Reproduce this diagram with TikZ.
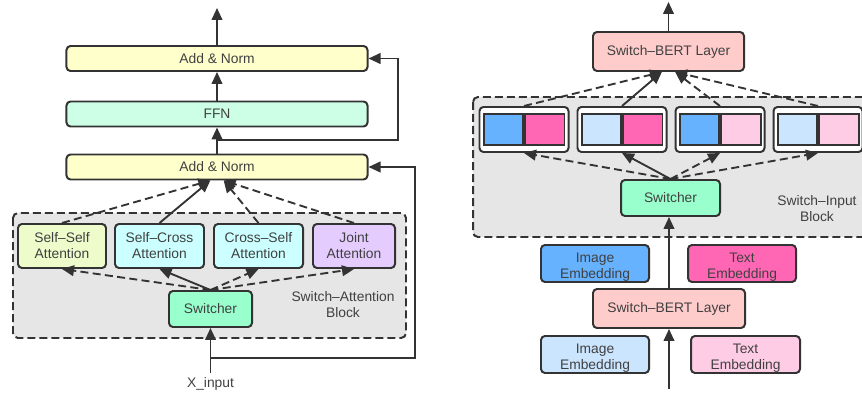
\documentclass[tikz,border=0pt]{standalone}
\usepackage{fontspec}
\setmainfont{Liberation Sans}
\usetikzlibrary{arrows.meta,calc}
\definecolor{ink}{HTML}{333333}
\definecolor{txtgray}{HTML}{404040}
\definecolor{normyellow}{HTML}{FFFFCC}
\definecolor{ffnmint}{HTML}{CCFFE6}
\definecolor{selfgreen}{HTML}{EEFCCC}
\definecolor{crosscyan}{HTML}{CCFFFF}
\definecolor{jointlilac}{HTML}{E5CCFF}
\definecolor{switchgreen}{HTML}{99FFCC}
\definecolor{blockgray}{HTML}{E6E6E6}
\definecolor{bertpink}{HTML}{FFCCCC}
\definecolor{imgblue}{HTML}{66B2FF}
\definecolor{imglight}{HTML}{CCE5FF}
\definecolor{txtpink}{HTML}{FF66B3}
\definecolor{txtlight}{HTML}{FFCCE6}

\begin{document}
\begin{tikzpicture}[x=0.03cm,y=-0.03cm,
  every node/.style={font=\fontsize{11.8}{13.6}\selectfont,text=txtgray},
  blk/.style={rectangle,draw=ink,line width=1.7pt,rounded corners=0.12cm,align=center,inner sep=0pt},
  conn/.style={-{Triangle[length=0.36cm,width=0.32cm]},draw=ink,line width=1.6pt},
  dconn/.style={conn,dash pattern=on 0.24cm off 0.13cm},
  zone/.style={draw=ink,fill=blockgray,line width=1.7pt,dash pattern=on 0.24cm off 0.12cm,rounded corners=0.15cm},
  half/.style={rectangle,draw=ink,line width=1.7pt,minimum width=1.185cm,minimum height=0.93cm,inner sep=0pt},
  pair/.style={blk,fill=white,minimum width=2.67cm,minimum height=1.35cm},
  emb/.style={blk,minimum width=3.24cm,minimum height=1.11cm}]

  \clip (0,0) rectangle (862,397);

  % Switch-Attention block (left)
  \draw[zone] (13,213) rectangle (406,338);

  \node[blk,fill=normyellow,minimum width=9.03cm,minimum height=0.75cm] (an2) at (217,58.5) {Add \& Norm};
  \node[blk,fill=ffnmint,minimum width=9.03cm,minimum height=0.75cm] (ffn) at (217,114) {FFN};
  \node[blk,fill=normyellow,minimum width=9.03cm,minimum height=0.75cm] (an1) at (217,167) {Add \& Norm};

  \node[blk,fill=selfgreen,minimum width=2.64cm,minimum height=1.32cm] (ss) at (62,246) {Self--Self\\Attention};
  \node[blk,fill=crosscyan,minimum width=2.67cm,minimum height=1.32cm] (sc) at (159.5,246) {Self--Cross\\Attention};
  \node[blk,fill=crosscyan,minimum width=2.67cm,minimum height=1.32cm] (cs) at (258.5,246) {Cross--Self\\Attention};
  \node[blk,fill=jointlilac,minimum width=2.46cm,minimum height=1.32cm] (ja) at (354,246) {Joint\\Attention};

  \node[blk,fill=switchgreen,minimum width=2.49cm,minimum height=1.08cm] (sw1) at (210.5,309) {Switcher};
  \node[align=center] (salabel) at (343,305) {Switch--Attention\\Block};
  \node (xin) at (210.5,384) {X\_input};

  % switcher fans out, branches merge into Add & Norm
  \draw[dconn] (sw1.north) -- (ss.south);
  \draw[conn] (sw1.north) -- (sc.south);
  \draw[dconn] (sw1.north) -- (cs.south);
  \draw[dconn] (sw1.north) -- (ja.south);
  \draw[dconn] (ss.north) -- ([xshift=-0.2cm]an1.south);
  \draw[conn] (sc.north) -- ([xshift=-0.2cm]an1.south);
  \draw[dconn] (cs.north) -- ([xshift=0.2cm]an1.south);
  \draw[dconn] (ja.north) -- ([xshift=0.2cm]an1.south);

  \draw[conn] (xin.north) -- (sw1.south);
  \draw[conn] (an1) -- (ffn);
  \draw[conn] (ffn) -- (an2);
  \coordinate (out1) at (217,8);
  \draw[conn] (an2) -- (out1);

  % residual paths
  \coordinate (r1) at (210.5,358);
  \draw[conn] (r1) -- ++(204.5,0) |- (an1.east);
  \coordinate (r2) at (217,140);
  \draw[conn] (r2) -- ++(181,0) |- (an2.east);

  % Switch-Input block (right)
  \draw[zone] (473,97) rectangle (900,237);

  \node[blk,fill=bertpink,minimum width=4.53cm,minimum height=1.17cm] (sb2) at (668.5,51.5) {Switch--BERT Layer};
  \coordinate (out2) at (668.5,2);
  \draw[conn] (sb2) -- (out2);

  \foreach \i/\cx/\lc/\rc in {1/524/imgblue/txtpink,2/622/imglight/txtpink,3/720/imgblue/txtlight,4/818/imglight/txtlight} {
    \node[pair] (p\i) at (\cx,129.5) {};
    \node[half,fill=\lc,anchor=east] (pl\i) at (p\i.center) {};
    \node[half,fill=\rc,anchor=west] (pr\i) at (p\i.center) {};
  }

  \node[blk,fill=switchgreen,minimum width=2.97cm,minimum height=1.08cm] (sw2) at (670.5,198) {Switcher};
  \node[align=center] (silabel) at (817,209) {Switch--Input\\Block};

  \draw[dconn] (sw2.north) -- (p1.south);
  \draw[conn] (sw2.north) -- (p2.south);
  \draw[dconn] (sw2.north) -- (p3.south);
  \draw[dconn] (sw2.north) -- (p4.south);
  \draw[dconn] (p1.north) -- ([xshift=-0.2cm]sb2.south);
  \draw[conn] (p2.north) -- ([xshift=-0.2cm]sb2.south);
  \draw[dconn] (p3.north) -- ([xshift=0.2cm]sb2.south);
  \draw[dconn] (p4.north) -- ([xshift=0.2cm]sb2.south);

  % embeddings and the lower layer
  \node[emb,fill=imgblue,label={[name=ie1t,align=center,yshift=-0.1cm]center:Image\\Embedding}] (ie1) at (595,263.5) {};
  \node[emb,fill=txtpink,label={[name=te1t,align=center,yshift=-0.1cm]center:Text\\Embedding}] (te1) at (742,263.5) {};
  \node[blk,fill=bertpink,minimum width=4.56cm,minimum height=1.17cm] (sb1) at (669,308.5) {Switch--BERT Layer};
  \node[emb,fill=imglight,label={[name=ie0t,align=center,yshift=-0.1cm]center:Image\\Embedding}] (ie0) at (595,354.5) {};
  \node[emb,fill=txtlight,minimum width=3.27cm,label={[name=te0t,align=center,yshift=-0.1cm]center:Text\\Embedding}] (te0) at (745.5,354.5) {};

  \draw[conn] (sb1.north) -- (sb1.north |- sw2.south);
  \coordinate (in2) at (669,389);
  \draw[conn] (in2) -- (sb1.south);

\end{tikzpicture}
\end{document}
